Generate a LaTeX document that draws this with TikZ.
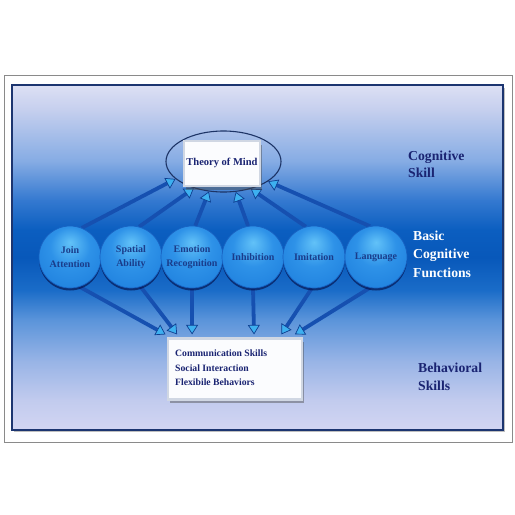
\documentclass[tikz,border=0pt]{standalone}
\usepackage{fontspec}
\setmainfont{Liberation Serif}
\usetikzlibrary{arrows.meta,shadows,calc,shapes.geometric}
\definecolor{navy}{HTML}{1A2472}
\definecolor{framegray}{HTML}{8A8A8A}
\definecolor{rectborder}{HTML}{1C3570}
\definecolor{arrline}{HTML}{1650B0}
\definecolor{tipfill}{HTML}{3DB0F0}
\definecolor{tipedge}{HTML}{0E3F90}
\definecolor{btntext}{HTML}{1A3C8A}
\definecolor{btnedge}{HTML}{1862C2}
\definecolor{ellline}{HTML}{1D3466}
\definecolor{boxedge}{HTML}{D0D7E3}
\definecolor{boxfill}{HTML}{FBFCFE}
\definecolor{bg0}{HTML}{D2D5F2}
\definecolor{bg1}{HTML}{C2CBEE}
\definecolor{bg2}{HTML}{98B4E6}
\definecolor{bg3}{HTML}{5A94DA}
\definecolor{bg4}{HTML}{1A6CC8}
\definecolor{bg5}{HTML}{0858BA}
\definecolor{bg6}{HTML}{0B5EC0}
\definecolor{bg7}{HTML}{3479D0}
\definecolor{bg8}{HTML}{86ACE4}
\definecolor{bg9}{HTML}{C5CFEE}
\definecolor{bg10}{HTML}{DDE0F4}
\definecolor{b1}{HTML}{62C2F8}
\definecolor{b2}{HTML}{2E92E8}
\definecolor{b3}{HTML}{2284E0}
\definecolor{b4}{HTML}{1A6CCC}
\pgfdeclareverticalshading{bgshade}{100bp}{color(0bp)=(bg0); color(25bp)=(bg0); color(29.3bp)=(bg1); color(35bp)=(bg2); color(41bp)=(bg3); color(45.3bp)=(bg4); color(50bp)=(bg5); color(54bp)=(bg6); color(58.3bp)=(bg7); color(64bp)=(bg8); color(71.4bp)=(bg9); color(75bp)=(bg10); color(100bp)=(bg10)}
\pgfdeclareradialshading{btn}{\pgfpoint{0bp}{12bp}}{color(0bp)=(b1); color(16bp)=(b2); color(30bp)=(b3); color(37bp)=(b4); color(50bp)=(b4)}
\pgfdeclarelayer{back}
\pgfdeclarelayer{arrlayer}
\pgfsetlayers{back,arrlayer,main}
\tikzset{
  btn/.style={circle, minimum size=62pt, inner sep=0pt, shading=btn, draw=btnedge, line width=0.7pt,
    align=center, font=\bfseries\fontsize{10}{14}\selectfont, text=btntext,
    drop shadow={shadow xshift=0pt, shadow yshift=-2.5pt, opacity=0.55, fill=black!80!blue}},
  conn/.style={draw=arrline, line width=3.8pt,
    -{Triangle[width=12pt,length=9.5pt,fill=tipfill,color=tipedge,line width=0.7pt]}},
  sidelabel/.style={anchor=base west, inner sep=0pt, font=\bfseries\fontsize{13.7}{18}\selectfont},
  boxtext/.style={anchor=base west, inner sep=0pt, font=\bfseries\fontsize{9.7}{14}\selectfont, text=navy},
  whitebox/.style={rectangle, inner sep=0pt, fill=boxfill,
    draw=boxedge, line width=2.2pt,
    drop shadow={shadow xshift=1.5pt, shadow yshift=-3.5pt, opacity=0.45, fill=black!70}},
}
\begin{document}
\begin{tikzpicture}[x=1pt,y=-1pt]
\useasboundingbox (0,0) rectangle (515,515);
\begin{pgfonlayer}{back}
  \fill[white] (0,0) rectangle (515,515);
  \draw[framegray, line width=0.9pt] (4,75) rectangle (512,442);
  \fill[black, opacity=0.25] (14,88) rectangle (505,432);
  \shade[shading=bgshade] (12,85) rectangle (503,430);
  \draw[rectborder, line width=1.6pt] (12,85) rectangle (503,430);
\end{pgfonlayer}

% Theory of mind
\node[ellipse, draw=ellline, line width=1.1pt, minimum width=115pt, minimum height=61pt, inner sep=0pt] (tom) at (223.5,161.5) {};
\node[whitebox, minimum width=76pt, minimum height=45pt] (tombox) at (222,163.5) {};
\node[anchor=base, inner sep=0pt, font=\bfseries\fontsize{10.5}{13}\selectfont, text=navy] (tomtext) at (222,165) {Theory of Mind};

% behaviour box
\node[whitebox, minimum width=134pt, minimum height=61pt] (bb) at (235,369) {};
\node[boxtext] (bt1) at (175,356.7) {Communication Skills};
\node[boxtext] (bt2) at (175,371.4) {Social Interaction};
\node[boxtext] (bt3) at (175,385.6) {Flexibile Behaviors};

% circles
\node[btn] (c1) at (70,257) {Join\\Attention};
\node[btn] (c2) at (131,257) {Spatial\\Ability};
\node[btn] (c3) at (192,257) {Emotion\\Recognition};
\node[btn] (c4) at (253,257) {Inhibition};
\node[btn] (c5) at (314,257) {Imitation};
\node[btn] (c6) at (376,257) {Language};

% side labels
\node[sidelabel, text=navy] (l1) at (408,160) {Cognitive};
\node[sidelabel, text=navy] (l2) at (408,177) {Skill};
\node[sidelabel, text=white] (l3) at (413,240) {Basic};
\node[sidelabel, text=white] (l4) at (413,258.5) {Cognitive};
\node[sidelabel, text=white] (l5) at (413,277) {Functions};
\node[sidelabel, text=navy] (l6) at (418,372.7) {Behavioral};
\node[sidelabel, text=navy] (l7) at (418,390) {Skills};

\begin{pgfonlayer}{arrlayer}
  % up arrows
  \draw[conn] (c1.68) -- (tom.200);
  \draw[conn] (c2.75) -- (tom.222);
  \draw[conn] (c3.84) -- (tom.244);
  \draw[conn] (c4.99) -- (tom.292);
  \draw[conn] (c5.105) -- (tom.315);
  \draw[conn] (c6.101) -- (tom.336);
  % down arrows
  \draw[conn] (c1.288) -- ([yshift=3pt]$(bb.north west)!-0.01!(bb.north east)$);
  \draw[conn] (c2.288) -- ([yshift=3pt]$(bb.north west)!0.075!(bb.north east)$);
  \draw[conn] (c3.270) -- ([yshift=3pt]$(bb.north west)!0.185!(bb.north east)$);
  \draw[conn] (c4.270) -- ([yshift=3pt]$(bb.north west)!0.64!(bb.north east)$);
  \draw[conn] (c5.266) -- ([yshift=3pt]$(bb.north west)!0.84!(bb.north east)$);
  \draw[conn] (c6.259) -- ([yshift=3pt]$(bb.north west)!0.94!(bb.north east)$);
\end{pgfonlayer}
\end{tikzpicture}
\end{document}
